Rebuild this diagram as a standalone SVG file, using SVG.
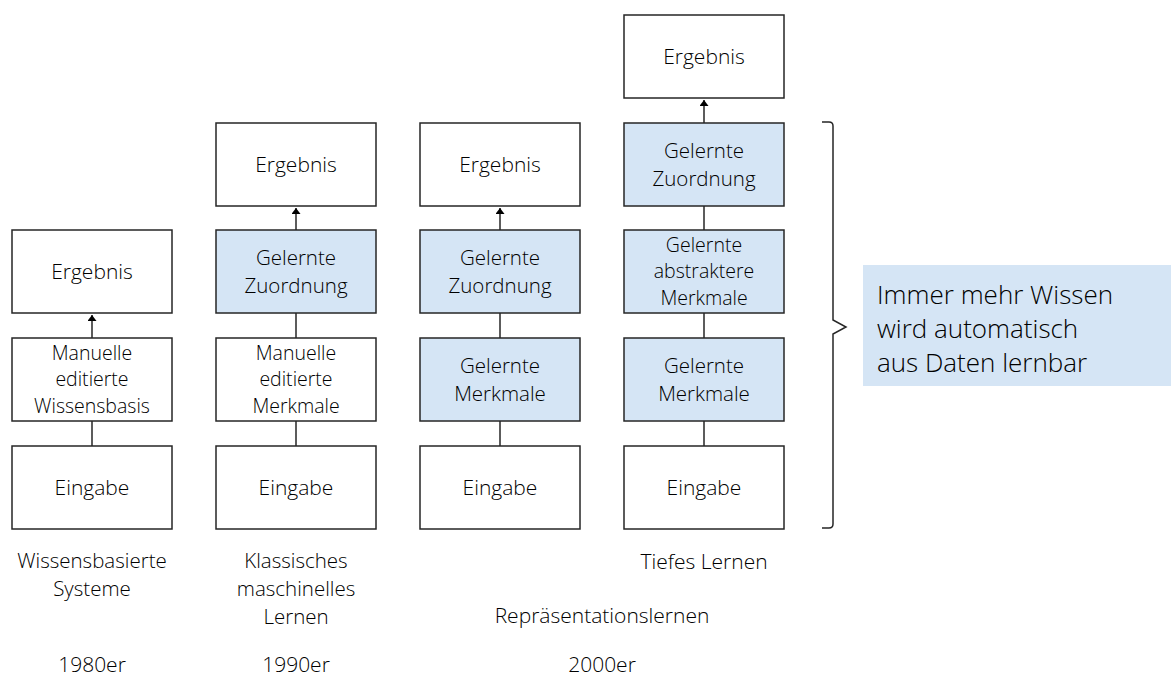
<svg xmlns="http://www.w3.org/2000/svg" width="1171" height="677" viewBox="0 0 1171 677">
<defs>
<style>
.b{fill:#ffffff;stroke:#262626;stroke-width:1.5}
.l{fill:#d5e5f5;stroke:#262626;stroke-width:1.5}
.t{font-family:"Open Sans","Noto Sans",sans-serif;font-size:21px;font-weight:300;fill:#000;text-anchor:middle}
.t2{font-size:20.5px}
.t3{font-size:19.5px}
.c{stroke:#262626;stroke-width:1.5;fill:none}
</style>
<marker id="ah" viewBox="0 0 6 9" refX="6" refY="4.5" markerWidth="6" markerHeight="9" markerUnits="userSpaceOnUse" orient="auto"><path d="M0,0 L6,4.5 L0,9 z" fill="#000"/></marker>
</defs>
<rect width="1171" height="677" fill="#ffffff"/>

<g id="connectors">
<line class="c" x1="92" y1="446" x2="92" y2="421"/>
<line class="c" x1="92" y1="338" x2="92" y2="315" marker-end="url(#ah)"/>
<line class="c" x1="296" y1="446" x2="296" y2="421"/>
<line class="c" x1="296" y1="338" x2="296" y2="313"/>
<line class="c" x1="296" y1="230" x2="296" y2="208" marker-end="url(#ah)"/>
<line class="c" x1="500" y1="446" x2="500" y2="421"/>
<line class="c" x1="500" y1="338" x2="500" y2="313"/>
<line class="c" x1="500" y1="230" x2="500" y2="208" marker-end="url(#ah)"/>
<line class="c" x1="704" y1="446" x2="704" y2="421"/>
<line class="c" x1="704" y1="338" x2="704" y2="313"/>
<line class="c" x1="704" y1="230" x2="704" y2="206"/>
<line class="c" x1="704" y1="123" x2="704" y2="100" marker-end="url(#ah)"/>
</g>

<g id="c1-ergebnis"><rect class="b" x="12" y="230" width="160" height="83"/><text class="t" x="92" y="279">Ergebnis</text></g>
<g id="c1-wissensbasis"><rect class="b" x="12" y="338" width="160" height="83"/><text class="t t3"><tspan x="92" y="359.5">Manuelle</tspan><tspan x="92" y="386.2">editierte</tspan><tspan x="92" y="412.9">Wissensbasis</tspan></text></g>
<g id="c1-eingabe"><rect class="b" x="12" y="446" width="160" height="83"/><text class="t" x="92" y="495">Eingabe</text></g>

<g id="c2-ergebnis"><rect class="b" x="216" y="123" width="160" height="83"/><text class="t" x="296" y="172">Ergebnis</text></g>
<g id="c2-zuordnung"><rect class="l" x="216" y="230" width="160" height="83"/><text class="t t2"><tspan x="296" y="264.5">Gelernte</tspan><tspan x="296" y="292.5">Zuordnung</tspan></text></g>
<g id="c2-merkmale"><rect class="b" x="216" y="338" width="160" height="83"/><text class="t t3"><tspan x="296" y="359.5">Manuelle</tspan><tspan x="296" y="386.2">editierte</tspan><tspan x="296" y="412.9">Merkmale</tspan></text></g>
<g id="c2-eingabe"><rect class="b" x="216" y="446" width="160" height="83"/><text class="t" x="296" y="495">Eingabe</text></g>

<g id="c3-ergebnis"><rect class="b" x="420" y="123" width="160" height="83"/><text class="t" x="500" y="172">Ergebnis</text></g>
<g id="c3-zuordnung"><rect class="l" x="420" y="230" width="160" height="83"/><text class="t t2"><tspan x="500" y="264.5">Gelernte</tspan><tspan x="500" y="292.5">Zuordnung</tspan></text></g>
<g id="c3-merkmale"><rect class="l" x="420" y="338" width="160" height="83"/><text class="t t2"><tspan x="500" y="372.5">Gelernte</tspan><tspan x="500" y="400.5">Merkmale</tspan></text></g>
<g id="c3-eingabe"><rect class="b" x="420" y="446" width="160" height="83"/><text class="t" x="500" y="495">Eingabe</text></g>

<g id="c4-ergebnis"><rect class="b" x="624" y="15" width="160" height="83"/><text class="t" x="704" y="64">Ergebnis</text></g>
<g id="c4-zuordnung"><rect class="l" x="624" y="123" width="160" height="83"/><text class="t t2"><tspan x="704" y="157.5">Gelernte</tspan><tspan x="704" y="185.5">Zuordnung</tspan></text></g>
<g id="c4-abstrakt"><rect class="l" x="624" y="230" width="160" height="83"/><text class="t t3"><tspan x="704" y="251.5">Gelernte</tspan><tspan x="704" y="278.2">abstraktere</tspan><tspan x="704" y="304.9">Merkmale</tspan></text></g>
<g id="c4-merkmale"><rect class="l" x="624" y="338" width="160" height="83"/><text class="t t2"><tspan x="704" y="372.5">Gelernte</tspan><tspan x="704" y="400.5">Merkmale</tspan></text></g>
<g id="c4-eingabe"><rect class="b" x="624" y="446" width="160" height="83"/><text class="t" x="704" y="495">Eingabe</text></g>

<g id="brace"><path class="c" d="M822,122 L829,122 Q833,122 833,126 L833,320 L846,327 L833,334 L833,524 Q833,528 829,528 L822,528"/></g>

<g id="note"><rect x="863" y="265" width="308" height="121" fill="#d5e5f5"/>
<text font-family="'Open Sans','Noto Sans',sans-serif" font-size="26" font-weight="300" fill="#000"><tspan x="877" y="304">Immer mehr Wissen</tspan><tspan x="877" y="338">wird automatisch</tspan><tspan x="877" y="372">aus Daten lernbar</tspan></text></g>

<g id="labels">
<text class="t t2"><tspan x="92" y="568">Wissensbasierte</tspan><tspan x="92" y="596">Systeme</tspan></text>
<text class="t t2"><tspan x="296" y="568">Klassisches</tspan><tspan x="296" y="596">maschinelles</tspan><tspan x="296" y="624">Lernen</tspan></text>
<text class="t" x="602" y="623">Repräsentationslernen</text>
<text class="t" x="704" y="569">Tiefes Lernen</text>
<text class="t" x="92" y="672">1980er</text>
<text class="t" x="296" y="672">1990er</text>
<text class="t" x="602" y="672">2000er</text>
</g>
</svg>
